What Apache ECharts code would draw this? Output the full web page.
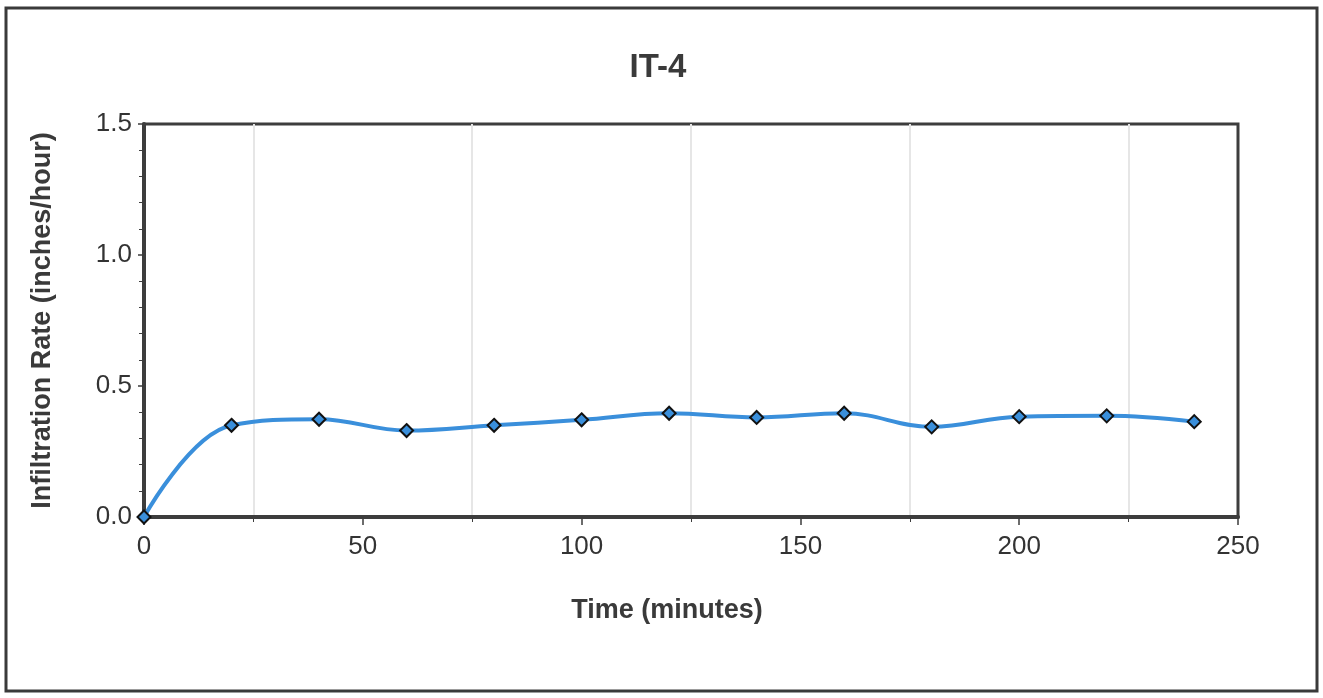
<!DOCTYPE html>
<html>
<head>
<meta charset="utf-8">
<script src="https://cdn.jsdelivr.net/npm/echarts@6/dist/echarts.min.js"></script>
<style>
html,body{margin:0;padding:0;background:#fff;}
#chart{width:1323px;height:698px;}
</style>
</head>
<body>
<div id="chart"></div>
<script>
const titleText = "IT-4";
const xAxisName = "Time (minutes)";
const yAxisName = "Infiltration Rate (inches/hour)";
const timeMinutes = [0, 20, 40, 60, 80, 100, 120, 140, 160, 180, 200, 220, 240];
const infiltrationRate = [0, 0.350, 0.373, 0.330, 0.350, 0.371, 0.396, 0.380, 0.396, 0.344, 0.383, 0.386, 0.364];

const chart = echarts.init(document.getElementById('chart'), null, {renderer: 'canvas'});
const font = '"Liberation Sans", Arial, sans-serif';
const seriesData = timeMinutes.map((t, i) => [t, infiltrationRate[i]]);

chart.setOption({
  backgroundColor: '#ffffff',
  animation: false,
  title: {
    text: titleText,
    left: 653, top: 46, textAlign: 'center',
    textStyle: {fontFamily: font, fontSize: 33, fontWeight: 'bold', color: '#3a3a3a'}
  },
  graphic: [{
    type: 'rect',
    shape: {x: 6, y: 8, width: 1311, height: 683},
    style: {fill: 'none', stroke: '#3a3a3a', lineWidth: 3},
    silent: true
  }],
  grid: {
    left: 144, right: 85, top: 124, bottom: 181,
    show: true, borderColor: '#3d3d3d', borderWidth: 3, backgroundColor: 'transparent'
  },
  xAxis: {
    type: 'value', min: 0, max: 250, interval: 50,
    name: xAxisName, nameLocation: 'middle', nameGap: 80,
    nameTextStyle: {fontFamily: font, fontSize: 27, fontWeight: 'bold', color: '#3a3a3a',
      padding: [0, 48, 0, 0]},
    axisLine: {show: true, onZero: false, lineStyle: {color: '#3d3d3d', width: 4}},
    axisTick: {show: true, length: 8, lineStyle: {color: '#3d3d3d', width: 1.5}},
    minorTick: {show: true, splitNumber: 2, length: 5, lineStyle: {color: '#3d3d3d', width: 1}},
    axisLabel: {fontFamily: font, fontSize: 26, color: '#333333', margin: 17},
    splitLine: {show: false},
    minorSplitLine: {show: true, lineStyle: {color: '#e6e6e6', width: 2}}
  },
  yAxis: {
    type: 'value', min: 0, max: 1.5, interval: 0.5,
    name: yAxisName, nameLocation: 'middle', nameGap: 88,
    nameTextStyle: {fontFamily: font, fontSize: 27, fontWeight: 'bold', color: '#3a3a3a'},
    axisLine: {show: true, onZero: false, lineStyle: {color: '#3d3d3d', width: 4}},
    axisTick: {show: true, length: 6, lineStyle: {color: '#3d3d3d', width: 1.5}},
    minorTick: {show: true, splitNumber: 5, length: 5, lineStyle: {color: '#3d3d3d', width: 1}},
    axisLabel: {fontFamily: font, fontSize: 26, color: '#333333', margin: 12,
      formatter: v => v.toFixed(1)},
    splitLine: {show: false}
  },
  series: [{
    type: 'line',
    data: seriesData,
    smooth: 0.4,
    symbol: 'diamond',
    symbolSize: 13,
    lineStyle: {color: '#3a8fdb', width: 4},
    itemStyle: {color: '#3a8fdb', borderColor: '#111111', borderWidth: 2}
  }]
});
</script>
</body>
</html>
